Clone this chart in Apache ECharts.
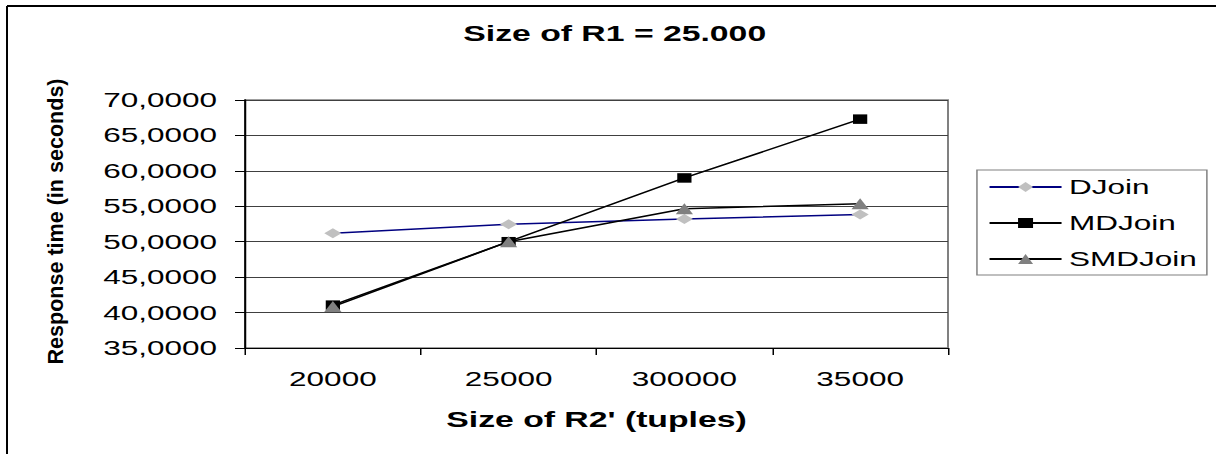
<!DOCTYPE html>
<html>
<head>
<meta charset="utf-8">
<script src="https://cdn.jsdelivr.net/npm/echarts@6/dist/echarts.min.js"></script>
<style>
  html, body { margin: 0; padding: 0; background: #fff; overflow: hidden; }
  /* The chart is laid out narrow and stretched 1.5x horizontally, giving the wide lettering and flattened markers */
  #chart { width: 810.667px; height: 454px; transform: scaleX(1.5); transform-origin: 0 0; }
</style>
</head>
<body>
<div id="chart"></div>
<script>
// Sizes of R2' on the horizontal axis
const categories = ['20000', '25000', '300000', '35000'];

// Response times in seconds
const djoin   = [51.2, 52.45, 53.2, 53.85];
const mdjoin  = [41.05, 50.0, 59.0, 67.3];
const smdjoin = [40.85, 50.0, 54.65, 55.35];

const seriesNames = ['DJoin', 'MDJoin', 'SMDJoin'];

const titleText = 'Size of R1 = 25.000';
const xTitle = "Size of R2' (tuples)";
const yTitle = 'Response time (in seconds)';

const FONT = '"Liberation Sans", Arial, Helvetica, sans-serif';
const SX = 1.5; // horizontal stretch applied to the container

const chart = echarts.init(document.getElementById('chart'), null, { renderer: 'svg' });

function lineSeries(name, data, lineColor, markColor, symbol, size) {
  return {
    name: name,
    type: 'line',
    data: data,
    symbol: symbol,
    symbolSize: size,
    showSymbol: true,
    lineStyle: { color: lineColor, width: 1.5 },
    itemStyle: { color: markColor, borderWidth: 0 },
    emphasis: { disabled: true }
  };
}

chart.setOption({
  animation: false,
  backgroundColor: '#fff',
  title: {
    text: titleText,
    left: 409.8,
    top: 22,
    textAlign: 'center',
    padding: 0,
    textStyle: { fontFamily: FONT, fontSize: 22.5, fontWeight: 'bold', color: '#000' }
  },
  legend: {
    data: seriesNames,
    orient: 'vertical',
    left: 651.3,
    top: 170,
    padding: [6.5, 6.7, 5.5, 7.4],
    itemWidth: 48,
    itemHeight: 12.5,
    itemGap: 15,
    backgroundColor: '#fff',
    borderColor: '#808080',
    borderWidth: 1,
    borderRadius: 0,
    selectedMode: false,
    textStyle: { fontFamily: FONT, fontSize: 21, color: '#000' }
  },
  grid: {
    left: 163.33,
    top: 100,
    width: 468.67,
    height: 248,
    show: true,
    borderColor: '#808080',
    borderWidth: 1.33,
    backgroundColor: 'transparent'
  },
  xAxis: {
    type: 'category',
    data: categories,
    boundaryGap: true,
    name: xTitle,
    nameLocation: 'middle',
    nameGap: 60,
    nameTextStyle: { fontFamily: FONT, fontSize: 22.5, fontWeight: 'bold', color: '#000' },
    axisLine: { show: true, lineStyle: { color: '#000', width: 1 } },
    axisTick: { show: true, length: 7, lineStyle: { color: '#000', width: 1 } },
    axisLabel: { margin: 20, fontFamily: FONT, fontSize: 21, color: '#000' },
    splitLine: { show: false }
  },
  yAxis: {
    type: 'value',
    min: 35,
    max: 70,
    interval: 5,
    axisLine: { show: true, lineStyle: { color: '#000', width: 1.33 } },
    axisTick: { show: true, length: 6.67, lineStyle: { color: '#000', width: 1 } },
    axisLabel: {
      margin: 18.67,
      fontFamily: FONT,
      fontSize: 21,
      color: '#000',
      formatter: v => v.toFixed(4).replace('.', ',')
    },
    splitLine: { show: true, lineStyle: { color: '#404040', width: 1 } }
  },
  graphic: [
    // chart frame: left and top edges
    { type: 'line', shape: { x1: 4.67, y1: 6, x2: 4.67, y2: 454 }, style: { stroke: '#000', lineWidth: 1.33 }, silent: true },
    { type: 'line', shape: { x1: 4.67, y1: 6, x2: 810.67, y2: 6 }, style: { stroke: '#000', lineWidth: 2 }, silent: true },
    // vertical axis title, squeezed back so it keeps normal proportions after the stretch
    {
      type: 'text',
      x: 36.67,
      y: 221.5,
      rotation: Math.PI / 2,
      scaleX: 0.98,
      scaleY: 1 / SX,
      silent: true,
      style: {
        text: yTitle,
        x: 0,
        y: 0,
        font: 'bold 22px ' + FONT,
        textAlign: 'center',
        textVerticalAlign: 'middle',
        fill: '#000'
      }
    }
  ],
  series: [
    lineSeries(seriesNames[0], djoin, '#000080', '#c0c0c0', 'diamond', [11.5, 10]),
    lineSeries(seriesNames[1], mdjoin, '#000000', '#000000', 'rect', [9.5, 9.5]),
    lineSeries(seriesNames[2], smdjoin, '#000000', '#808080', 'triangle', [11.5, 11])
  ]
});
</script>
</body>
</html>
